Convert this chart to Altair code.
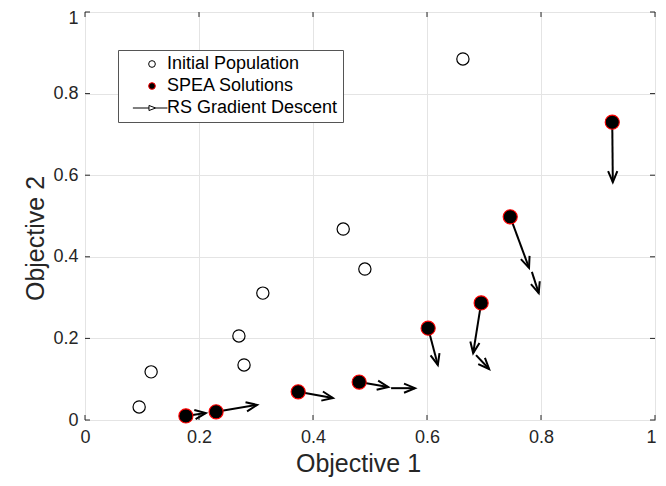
import math
import altair as alt
import pandas as pd

# ---- data ----
init_x = [0.095, 0.116, 0.270, 0.279, 0.312, 0.453, 0.491, 0.663]
init_y = [0.032, 0.118, 0.206, 0.135, 0.311, 0.468, 0.370, 0.885]

spea_x = [0.177, 0.230, 0.374, 0.481, 0.602, 0.695, 0.746, 0.925]
spea_y = [0.010, 0.020, 0.069, 0.093, 0.225, 0.287, 0.498, 0.730]

# gradient-descent steps (start -> end)
arr_x0 = [0.177, 0.230, 0.374, 0.481, 0.537, 0.602, 0.695, 0.686, 0.746, 0.784, 0.925]
arr_y0 = [0.010, 0.020, 0.069, 0.093, 0.078, 0.225, 0.287, 0.159, 0.498, 0.363, 0.730]
arr_x1 = [0.212, 0.302, 0.435, 0.532, 0.579, 0.619, 0.681, 0.709, 0.779, 0.796, 0.926]
arr_y1 = [0.017, 0.037, 0.054, 0.081, 0.078, 0.135, 0.164, 0.125, 0.373, 0.311, 0.583]

tick_values = [0, 0.2, 0.4, 0.6, 0.8, 1]
series_names = ["Initial Population", "SPEA Solutions", "RS Gradient Descent"]

W, H = 570, 408
FONT = "Liberation Sans"
INK = "#262626"

init_df = pd.DataFrame({"x": init_x, "y": init_y, "series": series_names[0]})
spea_df = pd.DataFrame({"x": spea_x, "y": spea_y, "series": series_names[1]})
arr_df = pd.DataFrame({"x0": arr_x0, "y0": arr_y0, "x1": arr_x1, "y1": arr_y1})
arr_df["angle"] = [
    math.degrees(math.atan2(-(b1 - b0) * H, (a1 - a0) * W)) % 360
    for a0, b0, a1, b1 in zip(arr_x0, arr_y0, arr_x1, arr_y1)
]
tick_df = pd.DataFrame({"t": tick_values})

xs = alt.Scale(domain=[0, 1], nice=False, zero=False)
ys = alt.Scale(domain=[0, 1], nice=False, zero=False)

xaxis = alt.Axis(values=tick_values, format="~g", title="Objective 1", ticks=False,
                 domain=False, labelFlush=False, labelOverlap=False, labelPadding=8,
                 titlePadding=5, grid=True, titleX=273, titleAlign="center",
                 labelOffset={"condition": {"test": "datum.value == 1", "value": -4}, "value": 0})
yaxis = alt.Axis(values=tick_values, format="~g", title="Objective 2", ticks=False,
                 domain=False, labelFlush=False, labelOverlap=False, labelPadding=7,
                 titlePadding=4, grid=True, titleY=226, titleAlign="center",
                 labelOffset={"condition": {"test": "datum.value == 1", "value": 6}, "value": 0})


def X(f):
    return alt.X(f, type="quantitative", scale=xs, axis=xaxis)


def Y(f):
    return alt.Y(f, type="quantitative", scale=ys, axis=yaxis)


rs_path = "M-5.7,0L-0.9,0M1.1,0L4.6,0M-0.9,-0.75L1.1,0L-0.9,0.75Z"
shape_scale = alt.Scale(domain=series_names, range=["circle", "circle", rs_path])
fill_scale = alt.Scale(domain=series_names, range=["rgba(0,0,0,0)", "#000000", "#ffffff"])
stroke_scale = alt.Scale(domain=series_names, range=["#000000", "#ff0000", "#000000"])
leg = alt.Legend(title=None)

init_layer = alt.Chart(init_df).mark_point(filled=True, size=150, strokeWidth=1.2, opacity=1).encode(
    x=X("x"), y=Y("y"),
    shape=alt.Shape("series:N", scale=shape_scale, legend=leg),
    fill=alt.Fill("series:N", scale=fill_scale, legend=leg),
    stroke=alt.Stroke("series:N", scale=stroke_scale, legend=leg),
)

spea_layer = alt.Chart(spea_df).mark_point(filled=True, size=200, strokeWidth=1.1, opacity=1).encode(
    x=X("x"), y=Y("y"),
    shape=alt.Shape("series:N", scale=shape_scale, legend=leg),
    fill=alt.Fill("series:N", scale=fill_scale, legend=leg),
    stroke=alt.Stroke("series:N", scale=stroke_scale, legend=leg),
)

shaft = alt.Chart(arr_df).mark_rule(color="#000000", strokeWidth=2).encode(
    x=X("x0"), y=Y("y0"), x2="x1", y2="y1"
)

head_path = "M-1,-0.42L0,0L-1,0.42"
heads = alt.Chart(arr_df).mark_point(
    shape=head_path, size=484, filled=False, stroke="#000000", strokeWidth=2, opacity=1
).encode(x=X("x1"), y=Y("y1"), angle=alt.Angle("angle:Q", scale=None))

tick_len = 5
ticks_b = alt.Chart(tick_df).mark_rule(color=INK, strokeWidth=1).encode(
    x=X("t"), y=alt.value(H), y2=alt.value(H - tick_len))
ticks_t = alt.Chart(tick_df).mark_rule(color=INK, strokeWidth=1).encode(
    x=X("t"), y=alt.value(0), y2=alt.value(tick_len))
ticks_l = alt.Chart(tick_df).mark_rule(color=INK, strokeWidth=1).encode(
    y=Y("t"), x=alt.value(0), x2=alt.value(tick_len))
ticks_r = alt.Chart(tick_df).mark_rule(color=INK, strokeWidth=1).encode(
    y=Y("t"), x=alt.value(W), x2=alt.value(W - tick_len))

chart = alt.layer(
    ticks_b, ticks_t, ticks_l, ticks_r, init_layer, shaft, heads, spea_layer
).properties(
    width=W, height=H,
    autosize=alt.AutoSizeParams(type="none"),
    padding={"left": 77, "top": 4, "right": 3, "bottom": 58},
).configure_view(
    stroke=INK, strokeWidth=1
).configure_axis(
    labelFont=FONT, titleFont=FONT, labelFontSize=18, titleFontSize=25,
    labelColor=INK, titleColor=INK, titleFontWeight="normal",
    gridColor="#e4e4e4", gridWidth=1,
).configure_legend(
    orient="none", legendX=33, legendY=38,
    labelFont=FONT, labelFontSize=18, labelColor="#000000", labelLimit=0,
    symbolSize=45, symbolStrokeWidth=1,
    strokeColor="#555555", fillColor="#ffffff",
    padding=5, rowPadding=4, symbolOffset=20, labelOffset=6,
    cornerRadius=0,
)

chart.save("out.html", embed_options={"renderer": "svg", "actions": False})
